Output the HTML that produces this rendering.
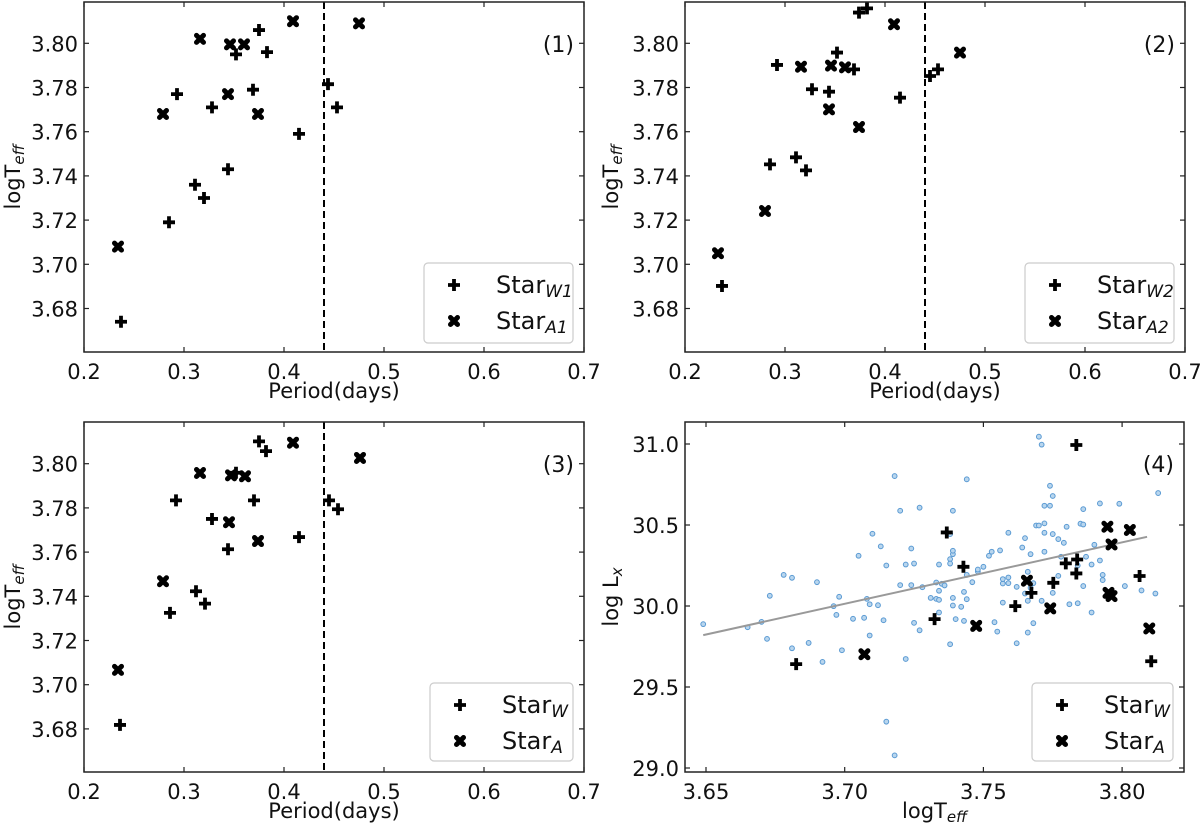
<!DOCTYPE html>
<html><head><meta charset="utf-8"><style>
html,body{margin:0;padding:0;background:#fff}
svg{display:block;font-family:"DejaVu Sans","Liberation Sans",sans-serif}
</style></head><body>
<svg id="c" width="1200" height="826" viewBox="0 0 1200 826" xmlns="http://www.w3.org/2000/svg"></svg>
<script>
// Panel 1
const p1W_x=[0.375,0.352,0.383,0.293,0.328,0.369,0.444,0.453,0.415,0.344,0.311,0.320,0.285,0.237];
const p1W_y=[3.806,3.795,3.796,3.777,3.771,3.779,3.7815,3.771,3.759,3.743,3.736,3.730,3.719,3.674];
const p1A_x=[0.316,0.346,0.360,0.409,0.475,0.344,0.279,0.374,0.234];
const p1A_y=[3.802,3.7995,3.7995,3.810,3.809,3.777,3.768,3.768,3.708];
// Panel 2
const p2W_x=[0.374,0.382,0.352,0.292,0.369,0.327,0.344,0.445,0.453,0.415,0.311,0.285,0.321,0.237];
const p2W_y=[3.8139,3.8158,3.7958,3.7902,3.7882,3.7792,3.7781,3.7852,3.7882,3.7754,3.7484,3.7452,3.7425,3.6902];
const p2A_x=[0.409,0.475,0.316,0.346,0.360,0.344,0.374,0.280,0.233];
const p2A_y=[3.8086,3.7958,3.7894,3.7899,3.7891,3.7701,3.7621,3.7241,3.7050];
// Panel 3
const p3W_x=[0.375,0.382,0.352,0.292,0.370,0.445,0.454,0.328,0.415,0.344,0.312,0.321,0.286,0.236];
const p3W_y=[3.8101,3.8057,3.7959,3.7834,3.7834,3.7834,3.7794,3.775,3.7668,3.7613,3.7423,3.7367,3.7325,3.6818];
const p3A_x=[0.409,0.476,0.316,0.347,0.361,0.345,0.374,0.279,0.234];
const p3A_y=[3.8095,3.8026,3.7958,3.7947,3.7943,3.7735,3.765,3.7468,3.7067];
// Panel 4
const p4W_x=[3.7835,3.7368,3.7428,3.7838,3.7797,3.7835,3.7752,3.7673,3.7615,3.7324,3.6825,3.8063,3.8105];
const p4W_y=[30.994,30.454,30.242,30.287,30.263,30.201,30.143,30.081,29.999,29.919,29.641,30.185,29.659];
const p4A_x=[3.7657,3.7741,3.7474,3.7071,3.7947,3.8028,3.7962,3.7951,3.7962,3.8098];
const p4A_y=[30.156,29.985,29.877,29.702,30.489,30.469,30.380,30.081,30.061,29.861];
const bgX=[3.649,3.665,3.670,3.672,3.673,3.678,3.681,3.681,3.687,3.690,3.692,3.696,3.698,3.697,3.699,3.703,3.705,3.707,3.708,3.709,3.709,3.710,3.712,3.713,3.714,3.715,3.715,3.718,3.718,3.720,3.720,3.722,3.722,3.724,3.724,3.725,3.725,3.727,3.727,3.728,3.731,3.733,3.733,3.734,3.734,3.734,3.734,3.735,3.736,3.738,3.738,3.738,3.738,3.739,3.739,3.739,3.739,3.739,3.740,3.742,3.743,3.743,3.744,3.744,3.744,3.746,3.748,3.748,3.750,3.752,3.753,3.756,3.754,3.755,3.757,3.757,3.757,3.759,3.759,3.759,3.762,3.762,3.764,3.765,3.765,3.766,3.766,3.766,3.767,3.767,3.768,3.768,3.769,3.770,3.770,3.771,3.771,3.772,3.772,3.772,3.772,3.774,3.774,3.775,3.775,3.775,3.777,3.777,3.778,3.779,3.780,3.781,3.784,3.784,3.785,3.786,3.786,3.786,3.787,3.789,3.789,3.790,3.792,3.792,3.793,3.793,3.799,3.801,3.807,3.812,3.813];
const bgY=[29.888,29.869,29.902,29.797,30.063,30.192,30.174,29.739,29.772,30.147,29.655,29.999,30.057,29.945,29.727,29.921,30.310,29.927,30.044,30.011,29.818,30.446,30.005,30.368,29.912,30.250,29.286,29.078,30.802,30.588,30.129,29.673,30.256,30.129,30.355,29.896,30.262,30.607,29.850,30.116,30.050,30.145,30.044,29.960,30.038,30.256,30.094,30.137,30.127,30.289,30.444,29.764,30.262,30.320,30.588,30.050,30.003,30.341,29.919,29.995,29.908,30.087,30.192,30.782,30.042,30.147,30.213,30.225,30.242,30.310,30.335,30.343,29.900,29.842,30.021,30.139,30.166,30.176,30.452,30.141,29.770,30.118,30.361,30.077,30.419,30.211,29.836,30.032,30.112,30.320,29.894,30.141,30.497,30.497,31.045,30.996,30.032,30.335,30.452,30.510,30.619,30.619,30.742,30.444,30.081,30.679,30.413,30.186,30.304,30.390,30.489,30.011,30.017,30.250,30.508,30.503,30.123,30.598,30.304,30.256,29.960,30.378,30.633,30.281,30.192,30.160,30.631,30.123,30.096,30.077,30.697];
const fitX=[3.649,3.809];
const fitY=[29.820,30.427];
const periodTicks=[0.2,0.3,0.4,0.5,0.6,0.7];
const periodTickLabels=["0.2","0.3","0.4","0.5","0.6","0.7"];
const tTicks=[3.68,3.70,3.72,3.74,3.76,3.78,3.80];
const tTickLabels=["3.68","3.70","3.72","3.74","3.76","3.78","3.80"];
const p4XTicks=[3.65,3.70,3.75,3.80];
const p4XTickLabels=["3.65","3.70","3.75","3.80"];
const p4YTicks=[29.0,29.5,30.0,30.5,31.0];
const p4YTickLabels=["29.0","29.5","30.0","30.5","31.0"];
const dividerPeriod=0.44;

const NS="http://www.w3.org/2000/svg";
const svg=document.getElementById('c');
function mk(tag,attrs,parent){const e=document.createElementNS(NS,tag);for(const k in attrs)e.setAttribute(k,attrs[k]);(parent||svg).appendChild(e);return e;}
function lin(d0,d1,r0,r1){return v=>r0+(v-d0)/(d1-d0)*(r1-r0);}

function plus(g,x,y){const p=mk('path',{d:`M${x-6},${y}H${x+6}M${x},${y-6}V${y+6}`,stroke:'#000','stroke-width':3.8,fill:'none'},g);

}
function cross(g,x,y){const p=mk('path',{d:`M${x-3.5},${y-3.5}L${x+3.5},${y+3.5}M${x-3.5},${y+3.5}L${x+3.5},${y-3.5}`,stroke:'#000','stroke-width':5,'stroke-linecap':'round',fill:'none'},g);

}

function panel(o){
  const g=mk('g',{});
  
  
  const sx=o.sx, sy=o.sy;
  o.xt.forEach((v,i)=>{const x=sx(v);
    mk('line',{x1:x,x2:x,y1:o.b,y2:o.b-5,stroke:'#222','stroke-width':1.2},g);
    mk('line',{x1:x,x2:x,y1:o.t,y2:o.t+5,stroke:'#222','stroke-width':1.2},g);
    const t=mk('text',{x:x,y:o.b+27,'font-size':21,'text-anchor':'middle',fill:'#111'},g);t.textContent=o.xl[i];
    
    });
  o.yt.forEach((v,i)=>{const y=sy(v);
    mk('line',{x1:o.l,x2:o.l+5,y1:y,y2:y,stroke:'#222','stroke-width':1.2},g);
    mk('line',{x1:o.r,x2:o.r-5,y1:y,y2:y,stroke:'#222','stroke-width':1.2},g);
    const t=mk('text',{x:o.l-6,y:y+8,'font-size':21,'text-anchor':'end',fill:'#111'},g);t.textContent=o.yl[i];
    
    });
  if(o.extra)o.extra(g,sx,sy);
  o.W[0].forEach((v,i)=>plus(g,sx(v),sy(o.W[1][i])));
  o.A[0].forEach((v,i)=>cross(g,sx(v),sy(o.A[1][i])));
  const f=mk('rect',{x:o.l,y:o.t,width:o.r-o.l,height:o.b-o.t,fill:'none',stroke:'#222','stroke-width':1.5},g);
  
  
  const xt=mk('text',{x:(o.l+o.r)/2,y:o.b+46,'font-size':21,'text-anchor':'middle',fill:'#111'},g);
  xt.innerHTML=o.xTitle;
  
  
  const cy=(o.t+o.b)/2;
  const yt=mk('text',{x:o.yx,y:cy,'font-size':21,'text-anchor':'middle',fill:'#111',transform:`rotate(-90 ${o.yx} ${cy})`},g);
  yt.innerHTML=o.yTitle;
  
  
  const pl=mk('text',{x:o.r-10,y:o.t+50,'font-size':22,'text-anchor':'end',fill:'#111'},g);
  pl.textContent=o.label;
  
  
  const L=o.leg;
  const lg=mk('g',{},g);
  
  
  mk('rect',{x:L.x,y:L.y,width:L.w,height:L.h,rx:4,fill:'#fff',stroke:'#ccc','stroke-width':1.2},lg);
  plus(lg,L.x+30,L.y+22);cross(lg,L.x+30,L.y+58);
  [[o.sub[0],22],[o.sub[1],58]].forEach(([s,dy])=>{
    const t=mk('text',{x:L.x+72,y:L.y+dy+8,'font-size':24,fill:'#111'},lg);
    t.innerHTML=`Star<tspan font-size="17" font-style="italic" dy="4">${s}</tspan>`;
    
    
  });
}
const tTitle='logT<tspan font-size="15" font-style="italic" dy="4">eff</tspan>';
function dashed(g,sx,sy,t,b){const x=sx(dividerPeriod);const d=mk('line',{x1:x,x2:x,y1:t,y2:b,stroke:'#000','stroke-width':2,'stroke-dasharray':'7,4'},g);

}

panel({name:'panel-1',l:84,r:584,t:2,b:352,sx:lin(0.2,0.7,84,584),sy:lin(3.80,3.78,43.3,87.5),
 xt:periodTicks,xl:periodTickLabels,yt:tTicks,yl:tTickLabels,W:[p1W_x,p1W_y],A:[p1A_x,p1A_y],
 extra:(g,sx,sy)=>dashed(g,sx,sy,2,352),xTitle:'Period(days)',yTitle:tTitle,yx:20,label:'(1)',
 leg:{x:424,y:263,w:149,h:80},sub:['W1','A1']});
panel({name:'panel-2',l:685,r:1185,t:2,b:352,sx:lin(0.2,0.7,685,1185),sy:lin(3.80,3.78,43.3,87.5),
 xt:periodTicks,xl:periodTickLabels,yt:tTicks,yl:tTickLabels,W:[p2W_x,p2W_y],A:[p2A_x,p2A_y],
 extra:(g,sx,sy)=>dashed(g,sx,sy,2,352),xTitle:'Period(days)',yTitle:tTitle,yx:618,label:'(2)',
 leg:{x:1025,y:263,w:149,h:80},sub:['W2','A2']});
panel({name:'panel-3',l:84,r:584,t:422,b:772,sx:lin(0.2,0.7,84,584),sy:lin(3.80,3.78,463.7,507.9),
 xt:periodTicks,xl:periodTickLabels,yt:tTicks,yl:tTickLabels,W:[p3W_x,p3W_y],A:[p3A_x,p3A_y],
 extra:(g,sx,sy)=>dashed(g,sx,sy,422,772),xTitle:'Period(days)',yTitle:tTitle,yx:20,label:'(3)',
 leg:{x:430,y:683,w:143,h:78},sub:['W','A']});
panel({name:'panel-4',l:685,r:1184,t:422,b:772,sx:lin(3.65,3.70,706,844.7),sy:lin(29.0,29.5,768,687),
 xt:p4XTicks,xl:p4XTickLabels,yt:p4YTicks,yl:p4YTickLabels,W:[p4W_x,p4W_y],A:[p4A_x,p4A_y],
 extra:(g,sx,sy)=>{
   const bg=mk('g',{},g);
   
   
   bgX.forEach((v,i)=>{const c=mk('circle',{cx:sx(v),cy:sy(bgY[i]),r:2.4,fill:'#b9d6ee',stroke:'#5a9ad3','stroke-width':1},bg);
     
     });
   const fl=mk('line',{x1:sx(fitX[0]),y1:sy(fitY[0]),x2:sx(fitX[1]),y2:sy(fitY[1]),stroke:'#999','stroke-width':2},g);
   
   
 },xTitle:tTitle,yTitle:'log L<tspan font-size="15" font-style="italic" dy="4">x</tspan>',yx:618,label:'(4)',
 leg:{x:1032,y:683,w:141,h:78},sub:['W','A']});
</script>
</body></html>
